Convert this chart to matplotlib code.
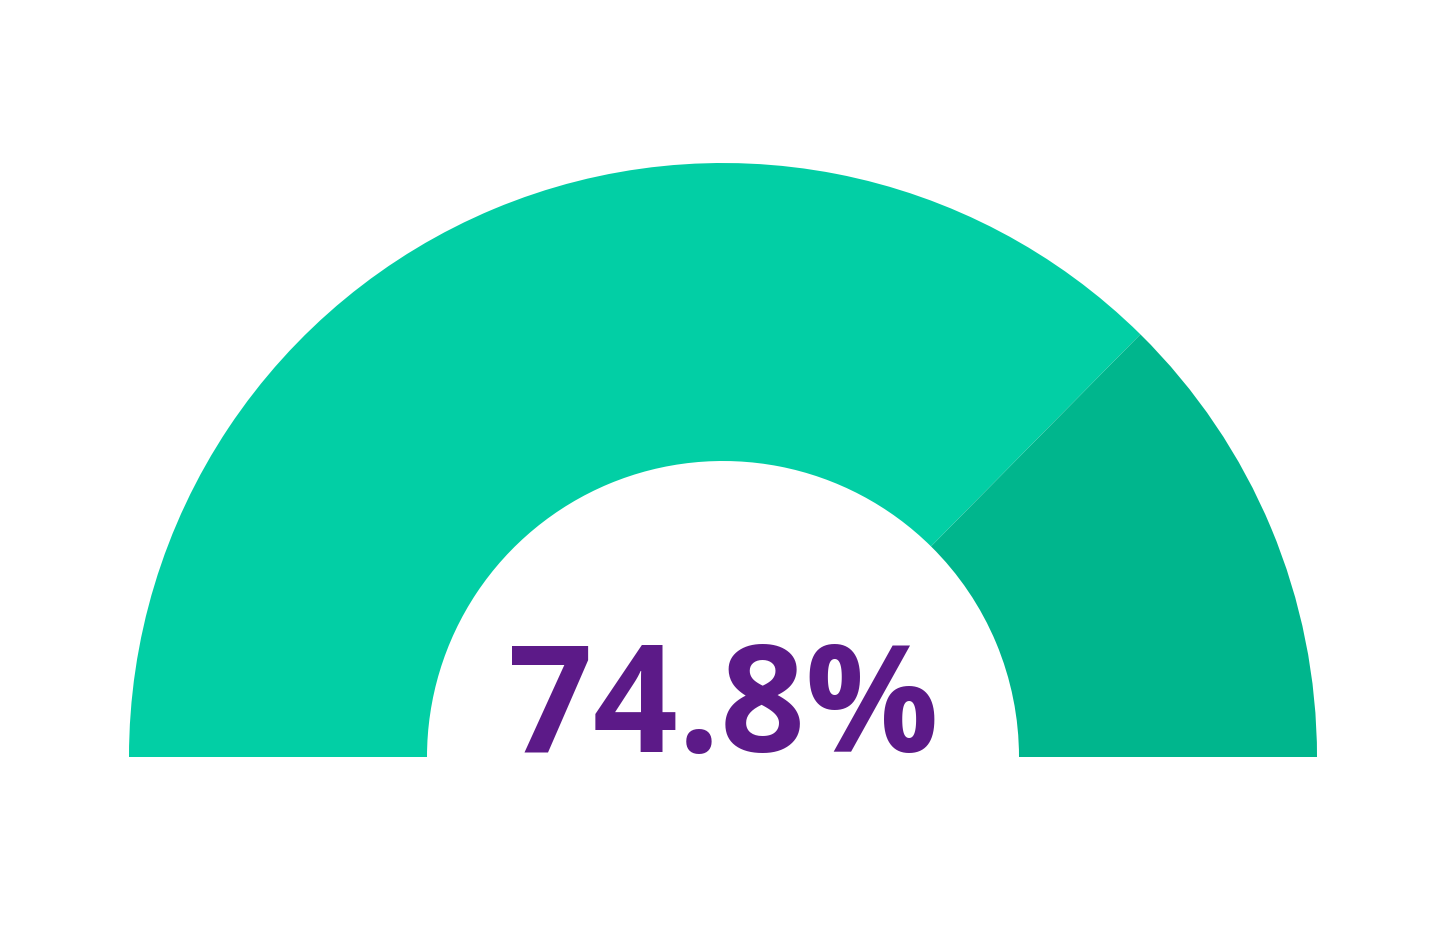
import matplotlib.pyplot as plt
from matplotlib.patches import Wedge

value = 74.8
max_value = 100
label = '74.8%'
colors = ['#02CFA5', '#00B68D']

fig = plt.figure(figsize=(14.46, 9.25), dpi=100)
ax = fig.add_axes([0, 0, 1, 1])
ax.set_xlim(0, 1446)
ax.set_ylim(0, 925)
ax.set_aspect('equal')
ax.axis('off')

cx, cy = 723, 168
r_out, r_in = 594, 296
split = 180 - 180 * value / max_value

ax.add_patch(Wedge((cx, cy), r_out, split, 180, width=r_out - r_in,
                   facecolor=colors[0], edgecolor='none'))
ax.add_patch(Wedge((cx, cy), r_out, 0, split, width=r_out - r_in,
                   facecolor=colors[1], edgecolor='none'))

ax.text(cx, 173, label, ha='center', va='baseline', fontsize=107,
        fontweight='bold', family=['Open Sans', 'DejaVu Sans'], color='#5C1A88')

fig.savefig('out.png', dpi=100)
